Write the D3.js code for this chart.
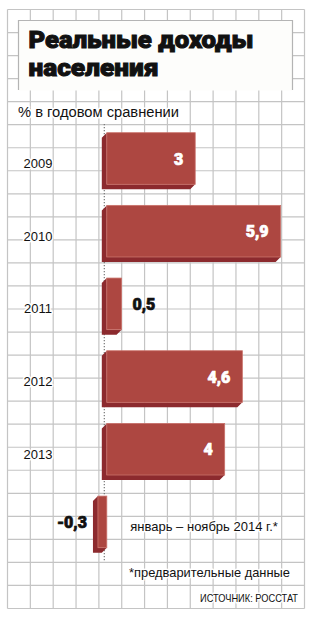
<!DOCTYPE html>
<html>
<head>
<meta charset="utf-8">
<script src="https://cdn.jsdelivr.net/npm/d3@7"></script>
<style>
  html, body { margin: 0; padding: 0; background: #fff; }
  svg { display: block; }
  .halo { paint-order: stroke; stroke: #fff; stroke-width: 3px; stroke-linejoin: round; }
</style>
</head>
<body>
<div id="chart"></div>
<script>
var svgWidth = 310, svgHeight = 617;

// данные
var categories = ["2009", "2010", "2011", "2012", "2013", "январь – ноябрь 2014 г.*"];
var values = [3, 5.9, 0.5, 4.6, 4, -0.3];
var titleLines = ["Реальные доходы", "населения"];

var svg = d3.select("#chart").append("svg")
    .attr("width", svgWidth)
    .attr("height", svgHeight);

// сетка
var gridLeft = 7.5, gridRight = 304.5, gridTop = 9.5, gridBottom = 608.5;
var cols = 13, rows = 26;
var gx = d3.scaleLinear().domain([0, cols]).range([gridLeft, gridRight]);
var gy = d3.scaleLinear().domain([0, rows]).range([gridTop, gridBottom]);

var grid = svg.append("g").attr("stroke", "#c4c4c4").attr("stroke-width", 1.2);
grid.selectAll(".v").data(d3.range(cols + 1)).enter().append("line")
    .attr("x1", function(d) { return gx(d); })
    .attr("x2", function(d) { return gx(d); })
    .attr("y1", gridTop).attr("y2", gridBottom);
grid.selectAll(".h").data(d3.range(rows + 1)).enter().append("line")
    .attr("x1", gridLeft).attr("x2", gridRight)
    .attr("y1", function(d) { return gy(d); })
    .attr("y2", function(d) { return gy(d); });

// плашка заголовка
svg.append("rect")
    .attr("x", 18.5).attr("y", 20.5)
    .attr("width", 274).attr("height", 70)
    .attr("fill", "#fdfdfb");
svg.append("path")
    .attr("d", "M18.5,90 L18.5,20.5 L292.5,20.5 L292.5,90")
    .attr("fill", "none")
    .attr("stroke", "#b4b4b4")
    .attr("stroke-width", 1.2);

var titleWidths = [225, 130];
svg.selectAll(".title").data(titleLines).enter().append("text")
    .attr("class", "title")
    .attr("x", 28.5)
    .attr("y", function(d, i) { return 48.3 + i * 28; })
    .attr("textLength", function(d, i) { return titleWidths[i]; })
    .attr("lengthAdjust", "spacingAndGlyphs")
    .style("font-family", "Roboto, 'DejaVu Sans', sans-serif")
    .style("font-weight", 900)
    .style("font-size", "24px")
    .attr("fill", "#111")
    .attr("stroke", "#111")
    .attr("stroke-width", 1)
    .text(function(d) { return d; });

svg.append("text")
    .attr("class", "halo")
    .attr("x", 18).attr("y", 117)
    .attr("textLength", 161)
    .attr("lengthAdjust", "spacingAndGlyphs")
    .style("font-family", "'Liberation Sans', Arial, sans-serif")
    .style("font-size", "14px")
    .attr("fill", "#111")
    .text("% в годовом сравнении");

// шкалы
var x = d3.scaleLinear().domain([0, 6]).range([104.3, 281.1]);
var y = d3.scaleBand().domain(categories).range([135.2, 550.2]).paddingInner(0.29);

// пунктир нуля
svg.append("line")
    .attr("x1", x(0)).attr("x2", x(0))
    .attr("y1", 124).attr("y2", 562)
    .attr("stroke", "#777")
    .attr("stroke-width", 1.2)
    .attr("stroke-dasharray", "1.2,1.8");

var depth = 5, half = depth / 2;
var bars = svg.selectAll(".bar").data(values).enter().append("g").attr("class", "bar");

// боковая грань
bars.append("path")
    .attr("fill", "#8c2a2e")
    .attr("d", function(d, i) {
        var fx0 = x(Math.min(0, d)) + half, fx1 = x(Math.max(0, d)) + half;
        var fy0 = y(categories[i]) - half, fy1 = fy0 + y.bandwidth();
        return "M" + fx0 + "," + fy0 + "L" + (fx0 - depth) + "," + (fy0 + depth) +
            "L" + (fx0 - depth) + "," + (fy1 + depth) + "L" + (fx1 - depth) + "," + (fy1 + depth) +
            "L" + fx1 + "," + fy1 + "L" + fx0 + "," + fy1 + "Z";
    });

// лицевая грань
bars.append("rect")
    .attr("x", function(d) { return x(Math.min(0, d)) + half; })
    .attr("y", function(d, i) { return y(categories[i]) - half; })
    .attr("width", function(d) { return x(Math.abs(d)) - x(0); })
    .attr("height", y.bandwidth())
    .attr("fill", "#ad4741")
    .attr("stroke", "#c9716a")
    .attr("stroke-width", 0.8);

// подписи категорий
svg.selectAll(".cat").data(categories).enter().append("text")
    .attr("class", "cat halo")
    .attr("x", function(d, i) { return values[i] < 0 ? x(0) + 26 : 38; })
    .attr("y", function(d) { return y(d) - half + y.bandwidth() / 2 + 9.5; })
    .attr("text-anchor", function(d, i) { return values[i] < 0 ? "start" : "middle"; })
    .style("font-family", "'Liberation Sans', Arial, sans-serif")
    .style("font-size", "13px")
    .attr("fill", "#111")
    .text(function(d) { return d; });

// значения
var fmt = function(v) { return String(v).replace(".", ","); };
svg.selectAll(".val").data(values).enter().append("text")
    .attr("class", "val")
    .attr("x", function(d) {
        if (d >= 1) return x(d) + half - 12;
        if (d >= 0) return x(d) + half + 11;
        return x(d) + half - 11;
    })
    .attr("y", function(d, i) { return y(categories[i]) - half + y.bandwidth() / 2 + 6; })
    .attr("text-anchor", function(d) { return (d >= 1 || d < 0) ? "end" : "start"; })
    .style("font-family", "Roboto, 'DejaVu Sans', sans-serif")
    .style("font-weight", 900)
    .style("font-size", "16px")
    .attr("fill", function(d) { return d >= 1 ? "#fff" : "#111"; })
    .attr("stroke", function(d) { return d >= 1 ? "#fff" : "#111"; })
    .attr("stroke-width", 0.7)
    .text(function(d) { return fmt(d); });

// примечания
svg.append("text")
    .attr("class", "halo")
    .attr("x", 129).attr("y", 577)
    .attr("textLength", 161)
    .attr("lengthAdjust", "spacingAndGlyphs")
    .style("font-family", "'Liberation Sans', Arial, sans-serif")
    .style("font-size", "13.5px")
    .attr("fill", "#111")
    .text("*предварительные данные");

svg.append("text")
    .attr("class", "halo")
    .attr("x", 298).attr("y", 601.5)
    .attr("text-anchor", "end")
    .attr("textLength", 98)
    .attr("lengthAdjust", "spacingAndGlyphs")
    .style("font-family", "'Liberation Sans', Arial, sans-serif")
    .style("font-size", "10.5px")
    .attr("fill", "#111")
    .text("ИСТОЧНИК: РОССТАТ");
</script>
</body>
</html>
